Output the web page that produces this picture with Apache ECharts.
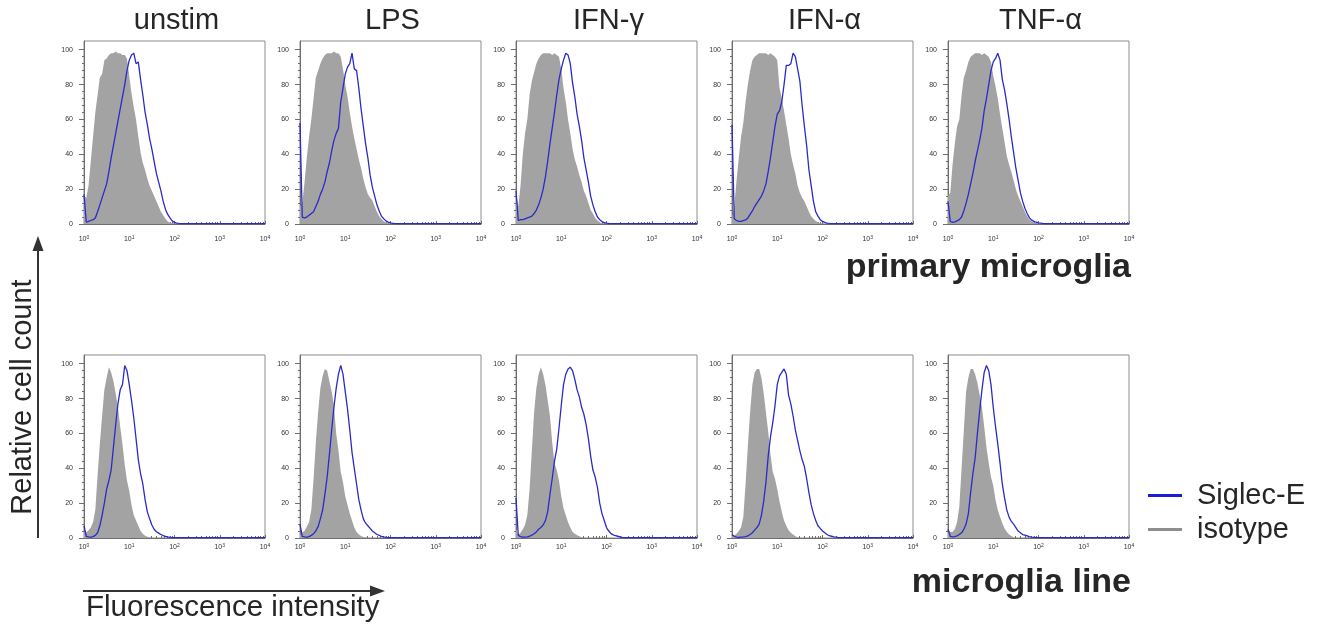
<!DOCTYPE html>
<html>
<head>
<meta charset="utf-8">
<script src="https://cdn.jsdelivr.net/npm/echarts@6/dist/echarts.min.js"></script>
<style>
  html, body { margin: 0; padding: 0; background: #fff; }
  #chart { width: 1320px; height: 624px; }
</style>
</head>
<body>
<div id="chart"></div>
<script>
// Histogram channels, in decades of fluorescence (10^0 .. 10^4)
const logDecade = [
  0, 0.05, 0.1, 0.15, 0.2, 0.25, 0.3, 0.35, 0.4, 0.45,
  0.5, 0.55, 0.6, 0.65, 0.7, 0.75, 0.8, 0.85, 0.9, 0.95,
  1, 1.05, 1.1, 1.15, 1.2, 1.25, 1.3, 1.35, 1.4, 1.45,
  1.5, 1.55, 1.6, 1.65, 1.7, 1.75, 1.8, 1.85, 1.9, 1.95,
  2, 2.05, 2.1, 2.15, 2.2, 2.25, 2.3, 2.35, 2.4, 2.45,
  2.5, 3, 3.5, 4
];

const conditions = ['unstim', 'LPS', 'IFN-γ', 'IFN-α', 'TNF-α'];
const rowLabels = ['primary microglia', 'microglia line'];
const decadeTicks = [0, 1, 2, 3, 4];
const minorSteps = [2, 3, 4, 5, 6, 7, 8, 9];
const yTicks = [0, 20, 40, 60, 80, 100];
const yMinorTicks = [4, 8, 12, 16, 24, 28, 32, 36, 44, 48, 52, 56, 64, 68, 72, 76, 84, 88, 92, 96];

// ---- primary microglia: Siglec-E staining (relative cell count, % of max) ----
const siglecPrimaryUnstim = [
  17, 1, 1.5, 2, 2.5, 3.5, 7, 11, 15, 19,
  23, 30, 38, 45, 52, 59, 66, 73, 80, 88,
  94, 97, 98, 92, 93, 83, 74, 64, 57, 49,
  43, 36, 29, 24, 19, 13, 8.5, 5.5, 3.5, 1.8,
  0.9, 0.5, 0.3, 0.2, 0.2, 0.2, 0.2, 0.2, 0.2, 0.2,
  0.2, 0.2, 0.2, 0.2
];
const siglecPrimaryLps = [
  58, 4, 3.5, 4, 5, 6, 7, 10, 13, 17,
  20, 24, 30, 35, 42, 48, 52, 55, 70, 78,
  86, 90, 92, 98, 89, 88, 78, 66, 56, 46,
  38, 28, 21, 16, 11, 7.5, 4.5, 3, 1.8, 1.1,
  0.6, 0.4, 0.2, 0.2, 0.2, 0.2, 0.2, 0.2, 0.2, 0.2,
  0.2, 0.2, 0.2, 0.2
];
const siglecPrimaryIfng = [
  19, 2, 2.5, 2.5, 3, 3.5, 4, 4.5, 6, 8,
  11, 15, 20, 27, 36, 46, 55, 64, 74, 83,
  89, 94, 98, 97, 92, 81, 73, 63, 56, 48,
  38, 31, 24, 16, 11, 7, 4, 2.5, 1.4, 0.8,
  0.5, 0.3, 0.2, 0.2, 0.2, 0.2, 0.2, 0.2, 0.2, 0.2,
  0.2, 0.2, 0.2, 0.2
];
const siglecPrimaryIfna = [
  57, 3, 2, 1.5, 1.5, 2, 2.3, 3.5, 5.5, 7.5,
  10, 12, 14, 16, 19, 23, 30, 38, 47, 56,
  63, 65, 70, 80, 91, 91, 92, 98, 96, 89,
  82, 68, 56, 45, 31, 22, 13, 7, 4.5, 2.5,
  1.5, 0.9, 0.5, 0.3, 0.2, 0.2, 0.2, 0.2, 0.2, 0.2,
  0.2, 0.2, 0.2, 0.2
];
const siglecPrimaryTnfa = [
  13, 1.5, 1, 1.2, 1.8, 2.5, 4, 7.5, 12, 17,
  23, 29, 36, 42, 48, 55, 65, 72, 80, 88,
  93, 95, 98, 94, 83, 77, 69, 60, 50, 41,
  32, 25, 18, 13, 9, 6, 3.5, 2.2, 1.5, 1,
  0.7, 0.5, 0.2, 0.2, 0.2, 0.2, 0.2, 0.2, 0.2, 0.2,
  0.2, 0.2, 0.2, 0.2
];

// ---- primary microglia: isotype control ----
const isoPrimaryUnstim = [
  16, 15, 22, 36, 50, 64, 74, 84, 86, 94,
  95, 97, 98, 98, 99, 98, 98, 97, 97, 95,
  85, 75, 67, 60, 50, 41, 35, 31, 26, 22,
  19, 16, 13, 10, 7, 5, 3, 1.5, 0.8, 0.4,
  0.2, 0, 0, 0, 0, 0, 0, 0, 0, 0,
  0, 0, 0, 0
];
const isoPrimaryLps = [
  10, 12, 24, 38, 50, 60, 72, 84, 88, 92,
  95, 97, 98, 98, 98, 99, 98, 98, 96, 89,
  80, 73, 64, 56, 49, 43, 37, 32, 26, 21,
  17, 15, 13.5, 10, 7, 4.5, 2.8, 1.6, 0.9, 0.4,
  0.2, 0, 0, 0, 0, 0, 0, 0, 0, 0,
  0, 0, 0, 0
];
const isoPrimaryIfng = [
  19, 10, 22, 40, 52, 60, 74, 82, 87, 92,
  95, 97, 98, 98, 98, 98, 97, 98, 97, 96,
  89, 78, 70, 60, 52, 43, 37, 33, 28, 24,
  19, 16, 12, 8, 6, 3.5, 2, 1, 0.5, 0.3,
  0.1, 0, 0, 0, 0, 0, 0, 0, 0, 0,
  0, 0, 0, 0
];
const isoPrimaryIfna = [
  3, 10, 25, 38, 50, 58, 70, 80, 88, 94,
  96, 97, 98, 98, 98, 98, 97, 98, 97, 96,
  94, 78, 72, 65, 57, 49, 40, 34, 29, 22,
  18, 15, 13, 10, 7, 4.5, 3, 1.7, 1, 0.5,
  0.2, 0, 0, 0, 0, 0, 0, 0, 0, 0,
  0, 0, 0, 0
];
const isoPrimaryTnfa = [
  16, 18, 34, 46, 56, 60, 74, 84, 88, 93,
  96, 97, 98, 98, 98, 97, 98, 97, 96, 93,
  85, 79, 72, 63, 55, 47, 39, 34, 30, 25,
  20, 16, 13, 10, 7, 4.5, 2.5, 1.5, 1, 0.5,
  0.2, 0, 0, 0, 0, 0, 0, 0, 0, 0,
  0, 0, 0, 0
];

// ---- microglia line: Siglec-E staining ----
const siglecLineUnstim = [
  7, 1, 0.6, 0.5, 0.8, 1.5, 3, 7, 13, 20,
  28, 33, 39, 52, 65, 77, 85, 88, 99, 96,
  88, 79, 69, 57, 45, 37, 31, 22, 15, 11,
  7.5, 5, 3.6, 2.8, 2, 1.4, 0.9, 0.6, 0.4, 0.2,
  0.2, 0.2, 0.2, 0.2, 0.2, 0.2, 0.2, 0.2, 0.2, 0.2,
  0.2, 0.2, 0.2, 0.2
];
const siglecLineLps = [
  8, 1, 0.6, 0.5, 0.8, 1.5, 2.5, 4, 6.5, 11,
  16, 25, 35, 48, 62, 75, 86, 94, 99, 94,
  84, 74, 62, 49, 40, 31, 22, 16, 11, 8.5,
  7, 5.5, 4, 3, 2, 1.5, 1, 0.6, 0.4, 0.2,
  0.2, 0.2, 0.2, 0.2, 0.2, 0.2, 0.2, 0.2, 0.2, 0.2,
  0.2, 0.2, 0.2, 0.2
];
const siglecLineIfng = [
  23, 1.5, 0.8, 0.5, 0.5, 0.7, 1, 1.6, 2.4, 3.5,
  5, 6, 7.5, 10, 15, 25, 34, 44, 51, 63,
  76, 88, 94, 97, 98, 96, 91, 85, 81, 75,
  71, 65, 57, 47, 39, 35, 29, 20, 14, 10,
  6, 4, 2.5, 1.8, 1.3, 1, 0.7, 0.4, 0.2, 0.2,
  0.2, 0.2, 0.2, 0.2
];
const siglecLineIfna = [
  2, 1, 0.5, 0.4, 0.5, 0.6, 0.8, 1.2, 2, 3,
  4.5, 6, 8, 13, 21, 32, 47, 58, 66, 76,
  88, 93, 95, 97, 94, 82, 77, 70, 62, 56,
  50, 45, 41, 34, 26, 19, 14, 10, 7, 5.5,
  4, 3, 2, 1.3, 1, 0.7, 0.5, 0.2, 0.2, 0.2,
  0.2, 0.2, 0.2, 0.2
];
const siglecLineTnfa = [
  5, 1, 0.6, 0.8, 1.2, 2, 3, 5, 8, 14,
  26, 37, 46, 60, 73, 85, 95, 99, 96, 88,
  75, 64, 54, 43, 31, 23, 16, 12, 9.5, 8,
  6, 4, 3, 2, 1.6, 1.2, 0.8, 0.5, 0.4, 0.2,
  0.2, 0.2, 0.2, 0.2, 0.2, 0.2, 0.2, 0.2, 0.2, 0.2,
  0.2, 0.2, 0.2, 0.2
];

// ---- microglia line: isotype control ----
const isoLineUnstim = [
  4, 3, 4.5, 6, 9, 16, 36, 54, 70, 85,
  92, 98, 95, 90, 83, 75, 64, 54, 42, 33,
  27, 19, 13, 10, 7, 4, 2.5, 1.3, 0.7, 0.3,
  0, 0, 0, 0, 0, 0, 0, 0, 0, 0,
  0, 0, 0, 0, 0, 0, 0, 0, 0, 0,
  0, 0, 0, 0
];
const isoLineLps = [
  2, 3, 4, 6.5, 9, 16, 34, 55, 72, 86,
  93, 97, 96, 90, 84, 76, 60, 50, 38, 32,
  24, 19, 14, 10, 6, 3.5, 2, 1.2, 0.6, 0.3,
  0, 0, 0, 0, 0, 0, 0, 0, 0, 0,
  0, 0, 0, 0, 0, 0, 0, 0, 0, 0,
  0, 0, 0, 0
];
const isoLineIfng = [
  5, 2, 3, 5, 7.5, 13, 28, 50, 72, 86,
  94, 98, 94, 88, 79, 70, 55, 43, 39, 33,
  24, 17, 13, 9, 6, 3.5, 2.5, 1.6, 1, 0.5,
  0, 0, 0, 0, 0, 0, 0, 0, 0, 0,
  0, 0, 0, 0, 0, 0, 0, 0, 0, 0,
  0, 0, 0, 0
];
const isoLineIfna = [
  1, 1.5, 2.5, 4, 6, 12, 31, 53, 72, 88,
  95, 97, 97, 92, 83, 72, 61, 48, 38, 34,
  28, 21, 15, 10, 7, 4.5, 3, 2, 1, 0.5,
  0, 0, 0, 0, 0, 0, 0, 0, 0, 0,
  0, 0, 0, 0, 0, 0, 0, 0, 0, 0,
  0, 0, 0, 0
];
const isoLineTnfa = [
  5, 3.5, 3.5, 5, 9, 18, 40, 62, 84, 92,
  97, 97, 94, 89, 82, 75, 64, 52, 43, 35,
  30, 22, 16, 12, 8.5, 5.5, 3.5, 2, 1.2, 0.5,
  0, 0, 0, 0, 0, 0, 0, 0, 0, 0,
  0, 0, 0, 0, 0, 0, 0, 0, 0, 0,
  0, 0, 0, 0
];

const siglecRows = [
  [siglecPrimaryUnstim, siglecPrimaryLps, siglecPrimaryIfng, siglecPrimaryIfna, siglecPrimaryTnfa],
  [siglecLineUnstim, siglecLineLps, siglecLineIfng, siglecLineIfna, siglecLineTnfa]
];
const isoRows = [
  [isoPrimaryUnstim, isoPrimaryLps, isoPrimaryIfng, isoPrimaryIfna, isoPrimaryTnfa],
  [isoLineUnstim, isoLineLps, isoLineIfng, isoLineIfna, isoLineTnfa]
];

// ---- layout ----
const FONT = '"Liberation Sans", Arial, sans-serif';
const panelLeft = [84, 300, 516, 732, 948];
const panelWidth = 181;
const rowTop = [41, 355];
const panelHeight = 183;
const xLabelMargin = [11, 5];
const axisGrey = '#6e6e6e';
const textColor = '#262626';
const siglecColor = '#2a2acb';
const isoColor = '#a3a3a3';

const minorX = [];
decadeTicks.slice(0, 4).forEach(d => minorSteps.forEach(s => minorX.push(d + Math.log10(s))));

const grids = [], xAxes = [], yAxes = [], series = [];
rowTop.forEach((top, r) => {
  panelLeft.forEach((left, c) => {
    const g = grids.length;
    grids.push({
      left: left, top: top, width: panelWidth, height: panelHeight,
      show: true, borderColor: '#8d8d8d', borderWidth: 1, backgroundColor: '#fff'
    });
    // decade ticks and 10^n labels
    xAxes.push({
      type: 'value', gridIndex: g, min: 0, max: 4, position: 'bottom',
      axisLine: { show: true, lineStyle: { color: axisGrey, width: 1 } },
      axisTick: { show: true, inside: true, length: 3, customValues: decadeTicks, lineStyle: { color: axisGrey } },
      axisLabel: {
        customValues: decadeTicks, margin: xLabelMargin[r],
        formatter: v => '{b|10}{e|' + v + '}',
        rich: {
          b: { fontSize: 7, lineHeight: 9, color: '#333', fontFamily: FONT },
          e: { fontSize: 5, lineHeight: 9, verticalAlign: 'top', color: '#333', fontFamily: FONT }
        }
      },
      splitLine: { show: false }
    });
    // log minor ticks (2..9 within each decade)
    xAxes.push({
      type: 'value', gridIndex: g, min: 0, max: 4, position: 'bottom',
      axisLine: { show: false },
      axisTick: { show: true, inside: true, length: 2, customValues: minorX, lineStyle: { color: axisGrey } },
      axisLabel: { show: false }, splitLine: { show: false }
    });
    yAxes.push({
      type: 'value', gridIndex: g, min: 0, max: 105, position: 'left',
      axisLine: { show: true, lineStyle: { color: axisGrey, width: 1 } },
      axisTick: { show: true, length: 5, customValues: yTicks, lineStyle: { color: axisGrey } },
      axisLabel: { customValues: yTicks, fontSize: 7, color: '#333', margin: 11, fontFamily: FONT },
      splitLine: { show: false }
    });
    yAxes.push({
      type: 'value', gridIndex: g, min: 0, max: 105, position: 'left',
      axisLine: { show: false },
      axisTick: { show: true, length: 2, customValues: yMinorTicks, lineStyle: { color: axisGrey } },
      axisLabel: { show: false }, splitLine: { show: false }
    });
    const iso = isoRows[r][c];
    const sig = siglecRows[r][c];
    series.push({
      type: 'line', name: 'isotype', xAxisIndex: 2 * g, yAxisIndex: 2 * g,
      data: logDecade.map((x, k) => [x, iso[k]]),
      symbol: 'none', silent: true,
      lineStyle: { width: 0, opacity: 0 },
      itemStyle: { color: '#8e8e8e' },
      areaStyle: { color: isoColor, opacity: 1 }
    });
    series.push({
      type: 'line', name: 'Siglec-E', xAxisIndex: 2 * g, yAxisIndex: 2 * g,
      data: logDecade.map((x, k) => [x, sig[k]]),
      symbol: 'none', silent: true,
      lineStyle: { color: siglecColor, width: 1.3 },
      itemStyle: { color: '#1c1cd8' }
    });
  });
});

const graphics = [];
conditions.forEach((name, c) => {
  graphics.push({
    type: 'text', x: panelLeft[c] + panelWidth / 2 + 2, y: 21,
    style: { text: name, fontSize: 29, fontFamily: FONT, fill: textColor, align: 'center', verticalAlign: 'middle' }
  });
});
graphics.push({
  type: 'text', x: 1131, y: 268,
  style: { text: rowLabels[0], fontSize: 34, fontWeight: 'bold', fontFamily: FONT, fill: textColor, align: 'right', verticalAlign: 'middle' }
});
graphics.push({
  type: 'text', x: 1131, y: 583,
  style: { text: rowLabels[1], fontSize: 34, fontWeight: 'bold', fontFamily: FONT, fill: textColor, align: 'right', verticalAlign: 'middle' }
});
// axis titles with arrows
graphics.push({
  type: 'text', x: 23, y: 397, rotation: Math.PI / 2,
  style: { text: 'Relative cell count', fontSize: 29, fontFamily: FONT, fill: textColor, align: 'center', verticalAlign: 'middle' }
});
graphics.push({ type: 'line', shape: { x1: 38, y1: 538, x2: 38, y2: 248 }, style: { stroke: '#333', lineWidth: 2 } });
graphics.push({ type: 'polygon', shape: { points: [[38, 236], [32.5, 251], [43.5, 251]] }, style: { fill: '#333' } });
graphics.push({
  type: 'text', x: 86, y: 608,
  style: { text: 'Fluorescence intensity', fontSize: 29.5, fontFamily: FONT, fill: textColor, align: 'left', verticalAlign: 'middle' }
});
graphics.push({ type: 'line', shape: { x1: 83, y1: 591, x2: 372, y2: 591 }, style: { stroke: '#333', lineWidth: 2 } });
graphics.push({ type: 'polygon', shape: { points: [[385, 591], [370, 585.5], [370, 596.5]] }, style: { fill: '#333' } });

const chart = echarts.init(document.getElementById('chart'), null, { renderer: 'canvas' });
chart.setOption({
  animation: false,
  backgroundColor: '#fff',
  grid: grids,
  xAxis: xAxes,
  yAxis: yAxes,
  series: series,
  legend: {
    orient: 'vertical', left: 1143, top: 476,
    itemWidth: 34, itemHeight: 3, itemGap: 5, icon: 'rect',
    selectedMode: false,
    textStyle: { fontSize: 29, color: textColor, fontFamily: FONT, padding: [0, 0, 0, 10] },
    data: [{ name: 'Siglec-E' }, { name: 'isotype' }]
  },
  graphic: graphics
});
</script>
</body>
</html>
